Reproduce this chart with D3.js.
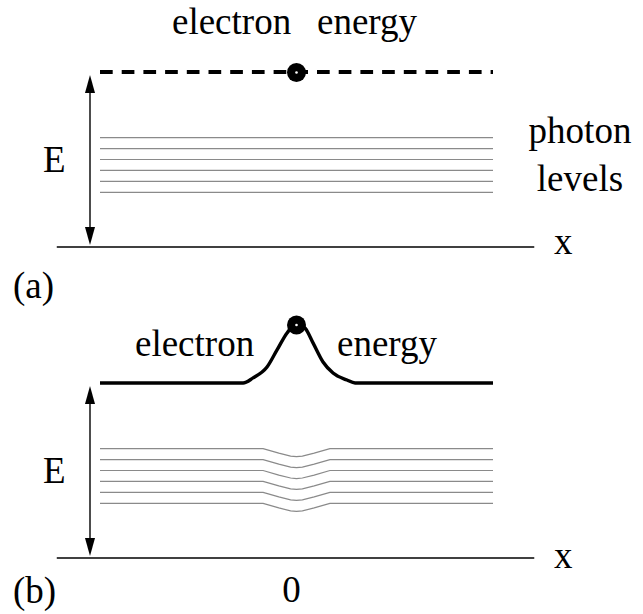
<!DOCTYPE html>
<html>
<head>
<meta charset="utf-8">
<script src="https://cdn.jsdelivr.net/npm/d3@7"></script>
<style>
  body { margin: 0; background: #fff; }
</style>
</head>
<body>
<svg id="s" width="643" height="614"></svg>
<script>
// energy of the photon levels (same in both panels)
const photonLevels = [0.312, 0.375, 0.438, 0.500, 0.562, 0.625]

// electron position on the x axis
const electronX = 0

// panel (a): flat electron energy
const electronEnergyA = 1.0

// panel (b): electron energy bump around x = 0
const bumpX = [-1, -0.272, -0.221, -0.150, -0.099, -0.048, 0, 0.043, 0.084, 0.135, 0.186, 0.257, 0.298, 1]
const bumpE = [1.0, 1.0, 1.029, 1.091, 1.189, 1.286, 1.337, 1.314, 1.229, 1.12, 1.057, 1.017, 1.0, 1.0]

// panel (b): dip of the photon levels near the electron
const dipX = [-1, -0.17, -0.09, -0.03, 0, 0.03, 0.09, 0.17, 1]
const dipE = [0, 0, -0.026, -0.043, -0.046, -0.043, -0.026, 0, 0]

const axisRange = [-1.22, 1.21]
const xTickLabels = ["0"]

const svg = d3.select("#s")

const x = d3.scaleLinear().domain([-1, 1]).range([100, 493])
const yA = d3.scaleLinear().domain([0, 1]).range([247, 72])
const yB = d3.scaleLinear().domain([0, 1]).range([558, 383])

const line = (y) => d3.line().x((d) => x(d[0])).y((d) => y(d[1]))

/*
  Labels
*/
const labels = [
  [43, yA(0.43), "E", "start"],
  [172, 34, "electron", "start"],
  [317, 34, "energy", "start"],
  [580, 143, "photon", "middle"],
  [580, 191, "levels", "middle"],
  [554, 254, "x", "start"],
  [13, 298, "(a)", "start"],
  [43, yB(0.43), "E", "start"],
  [135, 356, "electron", "start"],
  [337, 356, "energy", "start"],
  [554, 568, "x", "start"],
  [13, 603, "(b)", "start"],
  [x(electronX) - 5, 602, xTickLabels[0], "middle"],
]
labels.forEach((l) => {
  svg
    .append("text")
    .attr("x", l[0])
    .attr("y", l[1])
    .style("font-family", "'Liberation Serif', serif")
    .style("font-size", "37px")
    .attr("text-anchor", l[3])
    .text(l[2])
})

// filled arrow head, tip at (px, py), pointing up (dir = -1) or down (dir = 1)
const arrowHead = (g, px, py, dir) =>
  g
    .append("path")
    .attr("d", d3.line()([[px, py], [px - 5, py - dir * 18], [px + 5, py - dir * 18]]) + "Z")
    .attr("fill", "#000")

const drawPanel = (y, electronPoints, electronE, levelPoints, dashed) => {
  const g = svg.append("g")

  // x axis line
  g.append("line")
    .attr("x1", x(axisRange[0]))
    .attr("x2", x(axisRange[1]))
    .attr("y1", y(0))
    .attr("y2", y(0))
    .attr("stroke", "#000")
    .attr("stroke-width", 1.6)

  // energy arrow
  const top = y(1) + 3
  const bottom = y(0) - 2
  g.append("line")
    .attr("x1", 90)
    .attr("x2", 90)
    .attr("y1", top + 10)
    .attr("y2", bottom - 10)
    .attr("stroke", "#000")
    .attr("stroke-width", 1.4)
  arrowHead(g, 90, top, -1)
  arrowHead(g, 90, bottom, 1)

  // photon levels
  g.append("g")
    .selectAll("path")
    .data(photonLevels)
    .enter()
    .append("path")
    .attr("d", (lv) => line(y)(levelPoints.map((p) => [p[0], lv + p[1]])))
    .attr("fill", "none")
    .attr("stroke", "#8a8a8a")
    .attr("stroke-width", 1.2)

  // electron energy
  if (dashed) {
    // dashes drawn as separate segments
    const x0 = x(electronPoints[0][0])
    const x1 = x(electronPoints[electronPoints.length - 1][0])
    const starts = d3.range(x0, x1, 21.7)
    g.append("g")
      .selectAll("line")
      .data(starts)
      .enter()
      .append("line")
      .attr("x1", (d) => d)
      .attr("x2", (d) => Math.min(d + 12.7, x1))
      .attr("y1", y(electronE))
      .attr("y2", y(electronE))
      .attr("stroke", "#000")
      .attr("stroke-width", 4)
  } else {
    g.append("path")
      .attr("d", line(y).curve(d3.curveMonotoneX)(electronPoints))
      .attr("fill", "none")
      .attr("stroke", "#000")
      .attr("stroke-width", 3.4)
  }

  // electron
  const cy = y(electronE) + (dashed ? 0.5 : 1)
  g.append("circle").attr("cx", x(electronX)).attr("cy", cy).attr("r", 9.5).attr("fill", "#000")
  g.append("circle").attr("cx", x(electronX)).attr("cy", cy).attr("r", 1.3).attr("fill", "#fff")
}

// panel (a)
drawPanel(
  yA,
  [[-1, electronEnergyA], [1, electronEnergyA]],
  electronEnergyA,
  [[-1, 0], [1, 0]],
  true
)

// panel (b)
drawPanel(
  yB,
  bumpX.map((v, i) => [v, bumpE[i]]),
  d3.max(bumpE),
  dipX.map((v, i) => [v, dipE[i]]),
  false
)
</script>
</body>
</html>
